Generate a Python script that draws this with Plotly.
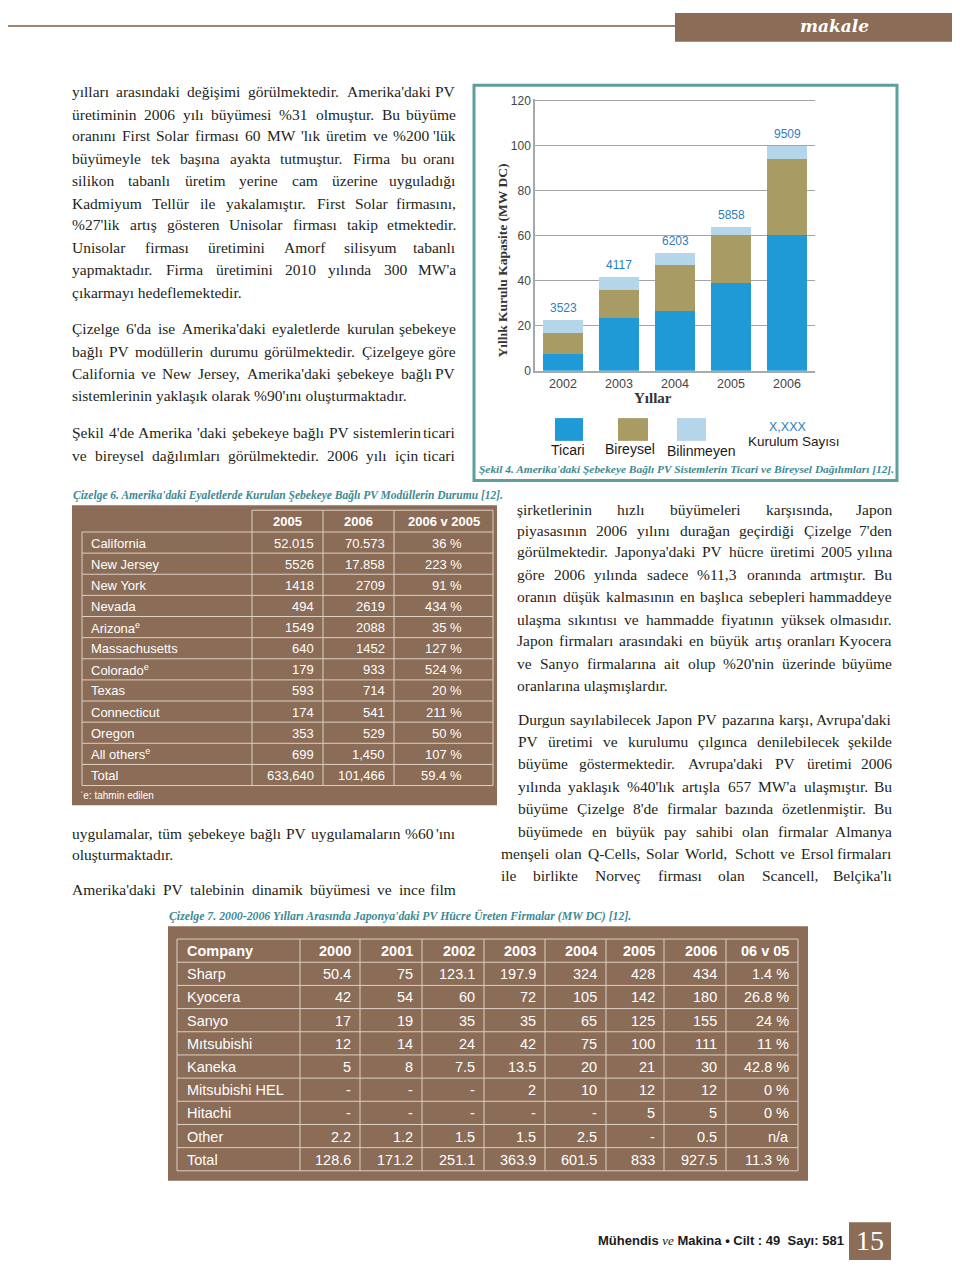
import plotly.graph_objects as go

PAGE_W, PAGE_H = 960, 1271
OX, OY = 8, 8   # page offset of the plot div (default body margin)
W, H = PAGE_W - 2 * OX, PAGE_H - 2 * OY   # figure fits the window exactly

# ---------------- data: Şekil 4 (stacked bars) ----------------
years = ["2002", "2003", "2004", "2005", "2006"]
ticari = [7.3, 23.5, 26.4, 38.9, 60.6]
bireysel = [9.3, 12.6, 20.5, 21.4, 33.7]
bilinmeyen = [6.1, 5.7, 5.7, 3.6, 5.8]
kurulum_sayisi = ["3523", "4117", "6203", "5858", "9509"]
y_ticks = [0, 20, 40, 60, 80, 100, 120]

# ---------------- data: Çizelge 6 ----------------
t6_header = ["2005", "2006", "2006 v 2005"]
states = ["California", "New Jersey", "New York", "Nevada", "Arizona", "Massachusetts",
          "Colorado", "Texas", "Connecticut", "Oregon", "All others", "Total"]
estimated = [False, False, False, False, True, False, True, False, False, False, True, False]
st_2005 = ["52.015", "5526", "1418", "494", "1549", "640", "179", "593", "174", "353", "699", "633,640"]
st_2006 = ["70.573", "17.858", "2709", "2619", "2088", "1452", "933", "714", "541", "529", "1,450", "101,466"]
st_change = ["36 %", "223 %", "91 %", "434 %", "35 %", "127 %", "524 %", "20 %", "211 %", "50 %", "107 %", "59.4 %"]

# ---------------- data: Çizelge 7 ----------------
t7_header = ["Company", "2000", "2001", "2002", "2003", "2004", "2005", "2006", "06 v 05"]
companies = ["Sharp", "Kyocera", "Sanyo", "Mıtsubishi", "Kaneka", "Mitsubishi HEL", "Hitachi", "Other", "Total"]
c2000 = ["50.4", "42", "17", "12", "5", "-", "-", "2.2", "128.6"]
c2001 = ["75", "54", "19", "14", "8", "-", "-", "1.2", "171.2"]
c2002 = ["123.1", "60", "35", "24", "7.5", "-", "-", "1.5", "251.1"]
c2003 = ["197.9", "72", "35", "42", "13.5", "2", "-", "1.5", "363.9"]
c2004 = ["324", "105", "65", "75", "20", "10", "-", "2.5", "601.5"]
c2005 = ["428", "142", "125", "100", "21", "12", "5", "-", "833"]
c2006 = ["434", "180", "155", "111", "30", "12", "5", "0.5", "927.5"]
c0605 = ["1.4 %", "26.8 %", "24 %", "11 %", "42.8 %", "0 %", "0 %", "n/a", "11.3 %"]

# ---------------- text ----------------
left_p1 = ["yılları arasındaki değişimi görülmektedir. Amerika'daki PV",
           "üretiminin 2006 yılı büyümesi %31 olmuştur. Bu büyüme",
           "oranını First Solar firması 60 MW 'lık üretim ve %200 'lük",
           "büyümeyle tek başına ayakta tutmuştur. Firma bu oranı",
           "silikon tabanlı üretim yerine cam üzerine uyguladığı",
           "Kadmiyum Tellür ile yakalamıştır. First Solar firmasını,",
           "%27'lik artış gösteren Unisolar firması takip etmektedir.",
           "Unisolar firması üretimini Amorf silisyum tabanlı",
           "yapmaktadır. Firma üretimini 2010 yılında 300 MW'a",
           "çıkarmayı hedeflemektedir."]
left_p2 = ["Çizelge 6'da ise Amerika'daki eyaletlerde kurulan şebekeye",
           "bağlı PV modüllerin durumu görülmektedir. Çizelgeye göre",
           "California ve New Jersey, Amerika'daki şebekeye bağlı PV",
           "sistemlerinin yaklaşık olarak %90'ını oluşturmaktadır."]
left_p3 = ["Şekil 4'de Amerika 'daki şebekeye bağlı PV sistemlerin ticari",
           "ve bireysel dağılımları görülmektedir. 2006 yılı için ticari"]
left_p4 = ["uygulamalar, tüm şebekeye bağlı PV uygulamaların %60 'ını",
           "oluşturmaktadır."]
left_p5 = ["Amerika'daki  PV talebinin dinamik büyümesi ve ince film"]
right_p1 = ["şirketlerinin hızlı büyümeleri karşısında, Japon",
            "piyasasının 2006 yılını durağan geçirdiği Çizelge 7'den",
            "görülmektedir. Japonya'daki PV hücre üretimi 2005 yılına",
            "göre 2006 yılında sadece %11,3 oranında artmıştır. Bu",
            "oranın düşük kalmasının en başlıca sebepleri hammaddeye",
            "ulaşma sıkıntısı ve hammadde fiyatının yüksek olmasıdır.",
            "Japon firmaları arasındaki en büyük artış oranları Kyocera",
            "ve Sanyo firmalarına ait olup %20'nin üzerinde büyüme",
            "oranlarına ulaşmışlardır."]
right_p2 = ["Durgun sayılabilecek Japon PV pazarına karşı, Avrupa'daki",
            "PV üretimi ve kurulumu çılgınca denilebilecek şekilde",
            "büyüme göstermektedir. Avrupa'daki PV üretimi 2006",
            "yılında yaklaşık %40'lık artışla 657 MW'a ulaşmıştır. Bu",
            "büyüme Çizelge 8'de firmalar bazında özetlenmiştir. Bu",
            "büyümede en büyük pay sahibi olan firmalar Almanya",
            "menşeli olan Q-Cells, Solar World, Schott ve Ersol firmaları",
            "ile birlikte Norveç firması olan Scancell, Belçika'lı"]

cap_fig4 = "Şekil 4. Amerika'daki Şebekeye Bağlı PV Sistemlerin Ticari ve Bireysel Dağılımları [12]."
cap_t6 = "Çizelge 6. Amerika'daki Eyaletlerde Kurulan Şebekeye Bağlı PV Modüllerin Durumu [12]."
cap_t7 = "Çizelge 7. 2000-2006 Yılları Arasında Japonya'daki PV Hücre Üreten Firmalar (MW DC) [12]."

# ---------------- styles ----------------
C_TIC, C_BIR, C_BIL = "#1F9AD6", "#A89B64", "#B5D5EA"
C_NUM = "#2E7DC0"
BROWN = "#8B6C57"
GRIDL = "#DCD0C3"
TEAL = "#3E8A93"
SERIF = "Liberation Serif, Times New Roman, serif"
SANS = "Liberation Sans, Arial, sans-serif"
TXT = "#231F20"


def X(x):
    return (x - OX) / W


def Y(y):
    return 1 - (y - OY) / H


anns = []
shapes = []


def ann(text, x, y, xa="left", size=15.5, color=TXT, family=SERIF, ya="middle", **kw):
    anns.append(dict(text=text, x=X(x), y=Y(y), xref="paper", yref="paper",
                     xanchor=xa, yanchor=ya, showarrow=False, borderpad=0,
                     font=dict(size=size, color=color, family=family), **kw))


def rect(x0, y0, x1, y1, fill=None, line=None, lw=1):
    shapes.append(dict(type="rect", xref="paper", yref="paper",
                       x0=X(x0), x1=X(x1), y0=Y(y1), y1=Y(y0),
                       fillcolor=fill if fill else "rgba(0,0,0,0)",
                       line=dict(color=line if line else "rgba(0,0,0,0)", width=lw if line else 0)))


def hline(x0, x1, y, color=GRIDL, lw=1):
    shapes.append(dict(type="line", xref="paper", yref="paper", x0=X(x0), x1=X(x1),
                       y0=Y(y), y1=Y(y), line=dict(color=color, width=lw)))


def vline(x, y0, y1, color=GRIDL, lw=1):
    shapes.append(dict(type="line", xref="paper", yref="paper", x0=X(x), x1=X(x),
                       y0=Y(y0), y1=Y(y1), line=dict(color=color, width=lw)))


# Times metrics (per 1000 em) for justification
TW = {' ': 250, '%': 833, "'": 180, '(': 333, ')': 333, ',': 250, '-': 333, '.': 250, ':': 278,
      '[': 333, ']': 333, '/': 278}
for d in "0123456789":
    TW[d] = 500
TW.update(dict(A=722, B=667, C=667, D=722, E=611, F=556, G=722, H=722, I=333, J=389, K=722, L=611,
               M=889, N=722, O=722, P=556, Q=722, R=667, S=556, T=611, U=722, V=722, W=944, X=722,
               Y=722, Z=611))
TW.update(dict(a=444, b=500, c=444, d=500, e=444, f=333, g=500, h=500, i=278, j=278, k=500, l=278,
               m=778, n=500, o=500, p=500, q=500, r=333, s=389, t=278, u=500, v=500, w=722, x=500,
               y=500, z=444))
TW.update({'ı': 278, 'ş': 389, 'ç': 444, 'ğ': 500, 'ö': 500, 'ü': 500, 'Ş': 556, 'Ç': 667,
           'Ö': 722, 'Ü': 722, 'İ': 333})
FS = 15.5


def tw(s):
    return sum(TW.get(c, 500) for c in s) * FS / 1000


def text_line(txt, x0, x1, y, justify):
    if not justify:
        ann(txt, x0, y)
        return
    words = txt.split()
    widths = [tw(w) for w in words]
    gap = (x1 - x0 - sum(widths)) / (len(words) - 1)
    xx = x0
    for i, w in enumerate(words):
        if i == len(words) - 1:
            ann(w, x1, y, xa="right")
        else:
            ann(w, xx, y)
        xx += widths[i] + gap


def paragraph(lines, ys, x0, x1, last_justified=False, x0s=None):
    for i, (ln, yy) in enumerate(zip(lines, ys)):
        just = (i < len(lines) - 1) or last_justified
        text_line(ln, x0s[i] if x0s else x0, x1, yy, just)


paragraph(left_p1, [87, 110, 132, 155, 177, 200, 222, 245, 267, 290], 71, 457)
paragraph(left_p2, [327, 350, 372, 394], 71, 457)
paragraph(left_p3, [432, 455], 71, 457, last_justified=True)
paragraph(left_p4, [836, 858], 71, 457)
paragraph(left_p5, [893], 71, 457, last_justified=True)
paragraph(right_p1, [509, 531, 552, 575, 597, 620, 642, 665, 687], 516, 893)
paragraph(right_p2, [721, 744, 766, 789, 811, 834, 857, 879], 516, 893, last_justified=True,
          x0s=[517, 517, 517, 517, 517, 517, 500, 500])

# ---------------- header & footer ----------------
hline(OX, 676, 21, color="#9C8573", lw=2)
rect(675, OY, PAGE_W, 37, fill=BROWN)
ann("<i><b>makale</b></i>", 834, 21, xa="center", size=17, color="white", family="DejaVu Serif, serif")
ann("<b>Mühendis</b> <span style='font-family:Liberation Serif'><i>ve</i></span> <b>Makina • Cilt : 49  Sayı: 581</b>",
    845, 1247, xa="right", size=13, color="#1A1A1A", family=SANS)
rect(849, 1229, 891, 1267, fill=BROWN)
ann("15", 870, 1247, xa="center", size=28, color="white", family=SERIF)

# ---------------- Şekil 4 frame, legend, caption ----------------
rect(474, 81, 897, 480, line="#5E9E9C", lw=3)
legend_items = [("Ticari", C_TIC, 555, 583, 568, 449),
                ("Bireysel", C_BIR, 618, 648, 630, 448),
                ("Bilinmeyen", C_BIL, 677, 706, 701, 450)]
for lab, col, lx0, lx1, tx, ty in legend_items:
    rect(lx0, 417, lx1, 440, fill=col)
    ann(lab, tx, ty, xa="center", size=14, color="#1A1A1A", family=SANS)
ann("X,XXX", 787, 426, xa="center", size=12.5, color=C_NUM, family=SANS)
ann("Kurulum Sayısı", 794, 441, xa="center", size=13.5, color="#1A1A1A", family=SANS)
ann("<b><i>" + cap_fig4 + "</i></b>", 686, 468, xa="center", size=11.4, color=TEAL)
ann("<b>Yıllık Kurulu Kapasite (MW DC)</b>", 503, 258, xa="center", size=13.5, color="#333333",
    textangle=-90)
ann("<b>Yıllar</b>", 653, 397, xa="center", size=15, color="#333333")

# ---------------- Çizelge 6 ----------------
ann("<b><i>" + cap_t6 + "</i></b>", 72, 495, size=11.5, color=TEAL)
rect(72, 505, 497, 808, fill=BROWN)
t6_cols = [82, 252, 323, 394, 493]
t6_top, t6_hdr, t6_rh = 510, 532, (788 - 532) / 12
t6_bot = t6_hdr + 12 * t6_rh
hline(252, 493, t6_top)
for k in range(13):
    hline(82, 493, t6_hdr + k * t6_rh)
vline(82, t6_hdr, t6_bot)
for cx in t6_cols[1:]:
    vline(cx, t6_top, t6_bot)
for j, h in enumerate(t6_header):
    ann("<b>" + h + "</b>", (t6_cols[j + 1] + t6_cols[j + 2]) / 2, 521.5, xa="center", size=13,
        color="white", family=SANS)
for i, st in enumerate(states):
    cy = t6_hdr + (i + 0.5) * t6_rh + 0.5
    ann(st + ("<sup>e</sup>" if estimated[i] else ""), 90, cy, size=13, color="white", family=SANS)
    ann(st_2005[i], 315, cy, xa="right", size=13, color="white", family=SANS)
    ann(st_2006[i], 386, cy, xa="right", size=13, color="white", family=SANS)
    ann(st_change[i], 463, cy, xa="right", size=13, color="white", family=SANS)
ann("ˈe: tahmin edilen", 79, 798, size=10, color="white", family=SANS)

# ---------------- Çizelge 7 ----------------
ann("<b><i>" + cap_t7 + "</i></b>", 168, 920, size=11.8, color=TEAL)
rect(168, 930, 808, 1187, fill=BROWN)
t7_cols = [177, 300, 360, 422, 484, 545, 606, 664, 726, 798]
t7_top, t7_rh = 943, (1177 - 943) / 10
for k in range(11):
    hline(177, 798, t7_top + k * t7_rh)
for cx in t7_cols:
    vline(cx, t7_top, t7_top + 10 * t7_rh)
t7_data = [c2000, c2001, c2002, c2003, c2004, c2005, c2006, c0605]
for j, h in enumerate(t7_header):
    cy = t7_top + 0.5 * t7_rh + 0.5
    if j == 0:
        ann("<b>" + h + "</b>", 186, cy, size=14.5, color="white", family=SANS)
    else:
        ann("<b>" + h + "</b>", t7_cols[j + 1] - 8, cy, xa="right", size=14.5, color="white", family=SANS)
for i, comp in enumerate(companies):
    cy = t7_top + (i + 1.5) * t7_rh + 0.5
    ann(comp, 186, cy, size=14.5, color="white", family=SANS)
    for j, col in enumerate(t7_data):
        ann(col[i], t7_cols[j + 2] - 8, cy, xa="right", size=14.5, color="white", family=SANS)

# ---------------- chart traces ----------------
xpos = list(range(len(years)))
fig = go.Figure()
for name, vals, col in [("Ticari", ticari, C_TIC), ("Bireysel", bireysel, C_BIR),
                        ("Bilinmeyen", bilinmeyen, C_BIL)]:
    fig.add_trace(go.Bar(x=xpos, y=vals, name=name, marker=dict(color=col, line=dict(width=0)),
                         hoverinfo="skip", showlegend=False))

totals = [a + b + c for a, b, c in zip(ticari, bireysel, bilinmeyen)]
for xi, tot, lab in zip(xpos, totals, kurulum_sayisi):
    anns.append(dict(text=lab, x=xi, y=tot, xref="x", yref="y", yanchor="bottom", yshift=3,
                     showarrow=False, font=dict(size=12, color=C_NUM, family=SANS)))

px_per_unit = (369.3 - 96.7) / 120
ytop = 369.3 - 121 * px_per_unit

fig.update_layout(
    width=W, height=H, margin=dict(l=0, r=0, t=0, b=0), autosize=False,
    paper_bgcolor="white", plot_bgcolor="white",
    barmode="stack", bargap=0.286, showlegend=False,
    xaxis=dict(domain=[X(535), X(815)], range=[-0.5, len(years) - 0.5], tickvals=xpos, ticktext=years,
               showline=True, linecolor="#A8A8A8", linewidth=1.5, showgrid=False, zeroline=False, ticks="",
               tickfont=dict(size=12.5, color="#444444", family=SANS), fixedrange=True),
    yaxis=dict(domain=[Y(369.3), Y(ytop)], range=[0, 121], tickvals=y_ticks, showline=True,
               linecolor="#A8A8A8", linewidth=1.5, showgrid=True, gridcolor="#A5A5A5", gridwidth=1,
               zeroline=False, ticks="", tickfont=dict(size=12, color="#444444", family=SANS),
               fixedrange=True),
    annotations=anns, shapes=shapes,
)

fig.write_html("out.html", config={"displayModeBar": False})
